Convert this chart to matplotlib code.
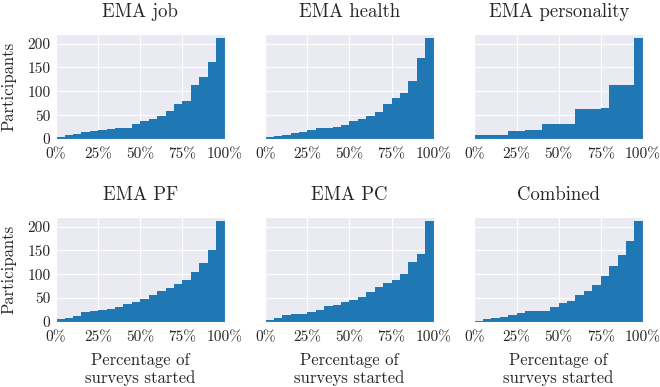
import numpy as np
import matplotlib
matplotlib.use("Agg")
import matplotlib.pyplot as plt
import seaborn as sns

# cumulative participant counts per 5% bin (20 bins, 0% .. 100%)
titles = ["EMA job", "EMA health", "EMA personality", "EMA PF", "EMA PC", "Combined"]
ema_job = [5, 8, 11, 14, 17, 19, 22, 24, 24, 31, 37, 41, 48, 58, 73, 80, 114, 130, 162, 212]
ema_health = [4, 7, 9, 12, 15, 18, 23, 23, 26, 29, 38, 41, 49, 56, 74, 86, 96, 121, 170, 212]
ema_personality = [8, 8, 8, 8, 17, 17, 19, 19, 31, 31, 31, 31, 62, 62, 62, 64, 113, 113, 113, 212]
ema_pf = [7, 9, 12, 21, 23, 25, 28, 31, 37, 41, 49, 57, 64, 71, 80, 89, 105, 123, 151, 212]
ema_pc = [4, 8, 14, 17, 17, 21, 26, 33, 36, 42, 46, 53, 62, 73, 82, 89, 101, 125, 142, 212]
combined = [3, 6, 8, 11, 14, 19, 22, 24, 24, 31, 40, 45, 56, 65, 77, 96, 117, 140, 170, 212]

xticks = [0, 0.25, 0.5, 0.75, 1.0]
xticklabels = ["0%", "25%", "50%", "75%", "100%"]
yticks = [0, 50, 100, 150, 200]

sns.set_style("darkgrid")
plt.rcParams["font.family"] = ["cmr10", "DejaVu Serif"]
plt.rcParams["mathtext.fontset"] = "cm"
plt.rcParams["axes.formatter.use_mathtext"] = True

series = [ema_job, ema_health, ema_personality, ema_pf, ema_pc, combined]
edges = np.linspace(0, 1, 21)

fig, axes = plt.subplots(2, 3, figsize=(6.6, 3.87), dpi=100, sharey=True)
fig.subplots_adjust(left=0.085, right=0.974, top=0.912, bottom=0.168,
                    wspace=0.242, hspace=0.743)

for i, (ax, title, counts) in enumerate(zip(axes.flat, titles, series)):
    ax.stairs(counts, edges, fill=True, color="#1f77b4", linewidth=0)
    ax.set_xlim(0, 1)
    ax.set_ylim(0, 220)
    ax.set_title(title, fontsize=13.5, pad=12)
    ax.set_xticks(xticks)
    ax.set_xticklabels(xticklabels, fontsize=11)
    ax.set_yticks(yticks)
    ax.set_yticklabels([str(v) for v in yticks], fontsize=11)
    ax.tick_params(axis="x", length=0, pad=6)
    ax.tick_params(axis="y", length=0, pad=4)
    if i % 3 == 0:
        ax.set_ylabel("Participants", fontsize=12, labelpad=8)
    if i >= 3:
        ax.set_xlabel("Percentage of\nsurveys started", fontsize=12, labelpad=6)

fig.savefig("out.png", dpi=100)
